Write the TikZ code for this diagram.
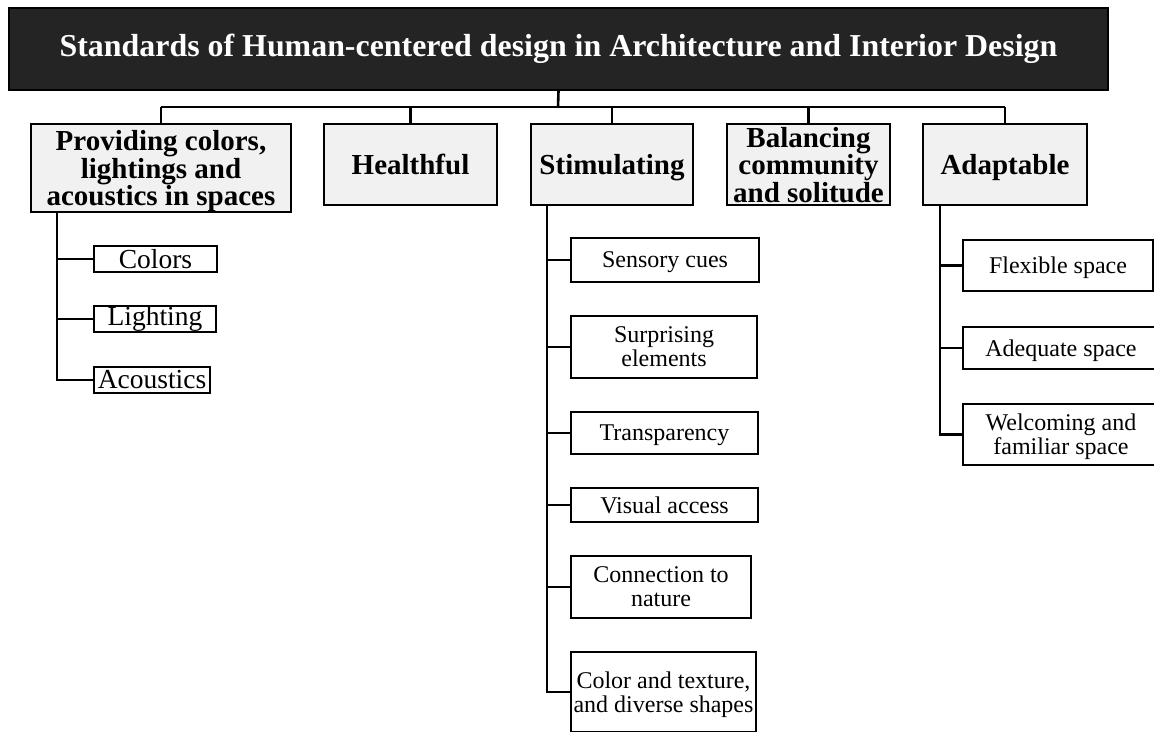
\documentclass[tikz,border=0pt]{standalone}
\usepackage{fontspec}
\setmainfont{Liberation Serif}
\begin{document}
\begin{tikzpicture}[x=1pt,y=-1pt,
  titlebox/.style={draw=black, fill=titlegray, line width=2pt, inner sep=0pt,
    text=white, font=\bfseries\fontsize{31.9}{34}\selectfont},
  mainbox/.style={draw=black, fill=boxgray, line width=2pt, inner sep=0pt, align=center,
    text depth=0pt, font=\bfseries\fontsize{29}{27.5}\selectfont},
  smallbox/.style={draw=black, fill=white, line width=2pt, inner sep=0pt, align=center,
    font=\fontsize{27.5}{27}\selectfont},
  subbox/.style={draw=black, fill=white, line width=2pt, inner sep=0pt, align=center,
    text depth=0pt, font=\fontsize{24}{24}\selectfont},
  link/.style={draw=black, line width=2.6pt},
  buslink/.style={draw=black, line width=2.2pt}]
\definecolor{titlegray}{HTML}{242424}
\definecolor{boxgray}{HTML}{F1F1F1}
\useasboundingbox (0,0) rectangle (1154,731);

% root
\node[titlebox, minimum width=1099, minimum height=82] (title) at (558.5,49)
  {Standards of Human-centered design in Architecture and Interior Design};

% first level
\node[mainbox, minimum width=260, minimum height=88] (prov) at (161,168)
  {Providing colors,\\ lightings and\\ acoustics in spaces};
\node[mainbox, minimum width=173, minimum height=81] (health) at (410.5,164.5) {Healthful};
\node[mainbox, minimum width=162, minimum height=81] (stim) at (612,164.5) {Stimulating};
\node[mainbox, minimum width=163, minimum height=81] (bal) at (808.5,164.5)
  {Balancing\\ community\\ and solitude};
\node[mainbox, minimum width=164, minimum height=81] (adapt) at (1005,164.5) {Adaptable};

% bus from the root to the first level
\coordinate (bus) at (558,107);
\draw[link] (title.south) -- (bus);
\draw[buslink] (prov.north |- bus) -- (adapt.north |- bus);
\foreach \n in {prov,health,stim,bal,adapt}
  \draw[buslink] (\n.north |- bus) -- (\n.north);

% colours, lighting, acoustics
\node[smallbox, minimum width=123, minimum height=26] (colors) at (155.5,259) {Colors};
\node[smallbox, minimum width=122, minimum height=26] (light) at (155,319) {Lighting};
\node[smallbox, minimum width=116, minimum height=26] (acou) at (152,380) {Acoustics};
\coordinate (ptrunk) at (57,212);
\draw[link] (ptrunk) |- (acou.west);
\foreach \n in {colors,light}
  \draw[link] (ptrunk |- \n.west) -- (\n.west);

% stimulating
\node[subbox, minimum width=188, minimum height=44] (sens) at (665,260) {Sensory cues};
\node[subbox, minimum width=186, minimum height=62] (surp) at (664,347) {Surprising\\ elements};
\node[subbox, minimum width=187, minimum height=42] (trans) at (664.5,433) {Transparency};
\node[subbox, minimum width=187, minimum height=34] (vis) at (664.5,505) {Visual access};
\node[subbox, minimum width=180, minimum height=62] (conn) at (661,587) {Connection to\\ nature};
\node[subbox, minimum width=185, minimum height=80] (ctex) at (663.5,692)
  {Color and texture,\\ and diverse shapes};
\coordinate (strunk) at (547,205);
\draw[link] (strunk) |- (ctex.west);
\foreach \n in {sens,surp,trans,vis,conn}
  \draw[link] (strunk |- \n.west) -- (\n.west);

% adaptable
\node[subbox, minimum width=190, minimum height=51] (flex) at (1058,265.5) {Flexible space};
\node[subbox, minimum width=196, minimum height=42] (adeq) at (1061,348) {Adequate space};
\node[subbox, minimum width=196, minimum height=61] (welc) at (1061,434.5)
  {Welcoming and\\ familiar space};
\coordinate (atrunk) at (940,205);
\draw[link] (atrunk) |- (welc.west);
\foreach \n in {flex,adeq}
  \draw[link] (atrunk |- \n.west) -- (\n.west);
\end{tikzpicture}
\end{document}
